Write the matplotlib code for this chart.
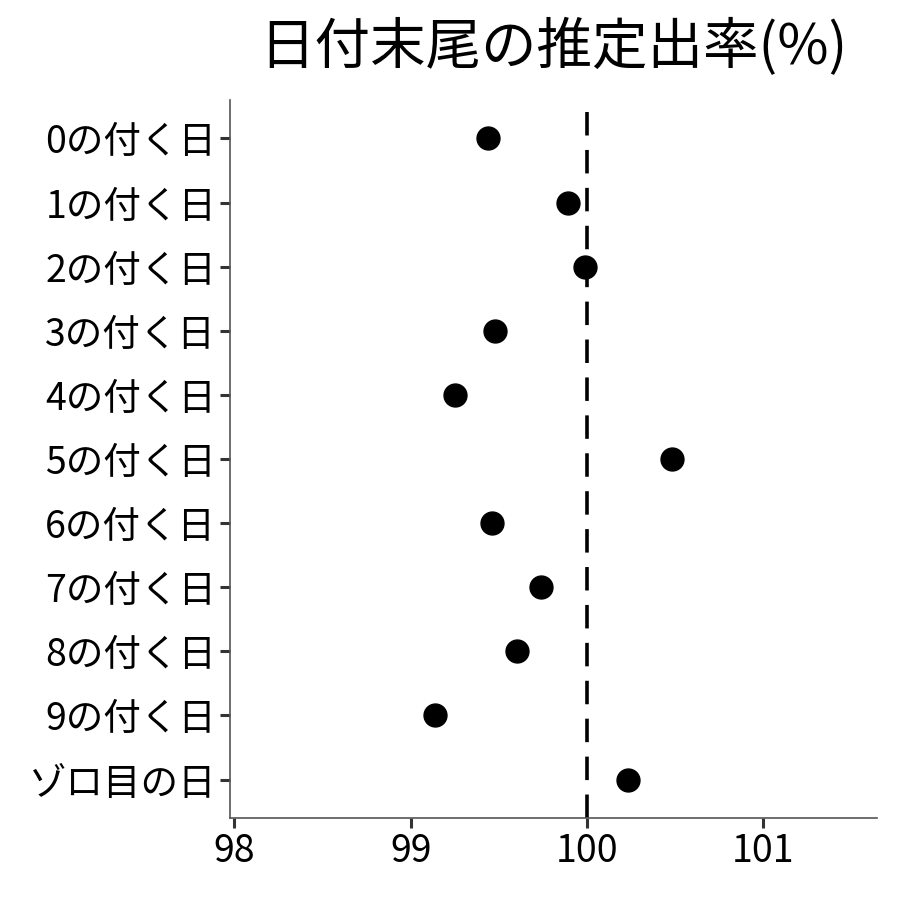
import matplotlib.pyplot as plt

plt.rcParams['font.family'] = ['Noto Sans CJK JP', 'DejaVu Sans']

labels = ['0の付く日', '1の付く日', '2の付く日', '3の付く日', '4の付く日',
          '5の付く日', '6の付く日', '7の付く日', '8の付く日', '9の付く日', 'ゾロ目の日']
rates = [99.44, 99.89, 99.99, 99.48, 99.25, 100.48, 99.46, 99.74, 99.60, 99.14, 100.23]
xticks = [98, 99, 100, 101]

fig = plt.figure(figsize=(9, 9), dpi=100)
ax = fig.add_axes([0.2556, 0.0911, 0.7189, 0.7978])

ypos = list(range(len(labels)))[::-1]
ax.plot(rates, ypos, 'o', color='black', markersize=16.5, zorder=3)
ax.axvline(100, color='black', linewidth=2.6, dashes=(6.5, 4), zorder=2)

ax.set_xlim(97.975, 101.645)
ax.set_ylim(-0.6, len(labels) - 0.4)
ax.set_xticks(xticks)
ax.set_xticklabels([str(v) for v in xticks])
ax.set_yticks(ypos)
ax.set_yticklabels(labels)

for s in ['top', 'right']:
    ax.spines[s].set_visible(False)
for s in ['left', 'bottom']:
    ax.spines[s].set_color('#555555')
    ax.spines[s].set_linewidth(1.2)
ax.tick_params(axis='both', length=7, width=2.2, color='#333333',
               labelsize=27, labelcolor='black', pad=3)

ax.set_title('日付末尾の推定出率(%)', fontsize=40, pad=26)

fig.savefig('out.png', dpi=100)
